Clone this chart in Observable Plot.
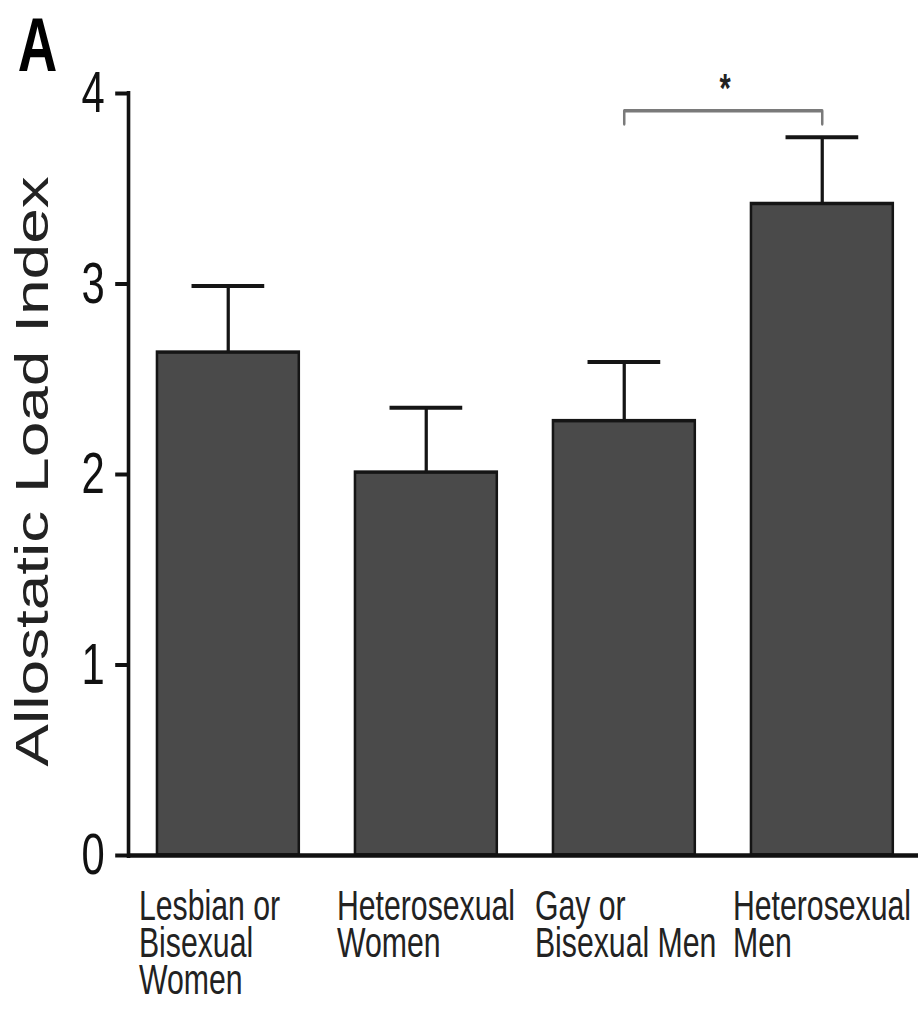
<!DOCTYPE html>
<html>
<head>
<meta charset="utf-8">
<script src="https://cdn.jsdelivr.net/npm/d3@7"></script>
<script src="https://cdn.jsdelivr.net/npm/@observablehq/plot@0.6"></script>
<style>
  html, body { margin: 0; padding: 0; background: #fff; }
  #chart { width: 918px; height: 1013px; overflow: hidden; }
</style>
</head>
<body>
<div id="chart"></div>
<script>
// ---- data ----
const groups = ["Lesbian or Bisexual Women", "Heterosexual Women", "Gay or Bisexual Men", "Heterosexual Men"];
const groupLabels = ["Lesbian or\nBisexual\nWomen", "Heterosexual\nWomen", "Gay or\nBisexual Men", "Heterosexual\nMen"];
const means = [2.64, 2.01, 2.28, 3.42];
const upperErr = [2.99, 2.35, 2.59, 3.77];
const yTicks = [0, 1, 2, 3, 4];
const sigPair = [groups[2], groups[3]];
const sigText = "*";
const panelLabel = "A";
const yTitle = "Allostatic Load Index";

const data = groups.map((g, i) => ({group: g, label: groupLabels[i], mean: means[i], upper: upperErr[i]}));

// drawn in a wider space, then squeezed horizontally like the original figure
const outW = 918, outH = 1013;
const W = 1275;

const bracketTop = 3.91, bracketLeg = 3.84;
const bracket = [
  {g: sigPair[0], v: bracketLeg},
  {g: sigPair[0], v: bracketTop},
  {g: sigPair[1], v: bracketTop},
  {g: sigPair[1], v: bracketLeg}
];

const font = "'Liberation Sans', Arial, Helvetica, sans-serif";

const chart = Plot.plot({
  width: W,
  height: outH,
  marginLeft: 178,
  marginRight: 0,
  marginTop: 93,
  marginBottom: 158,
  style: {fontFamily: font, background: "#fff", color: "#111"},
  x: {domain: groups, paddingInner: 0.283, paddingOuter: 0.136, align: 0.533, axis: null},
  y: {domain: [0, 4], axis: null},
  marks: [
    Plot.barY(data, {x: "group", y: "mean", fill: "#4a4a4a", stroke: "#151515", strokeWidth: 3.5}),
    Plot.ruleX(data, {x: "group", y1: "mean", y2: "upper", stroke: "#151515", strokeWidth: 4.5}),
    Plot.tickY(data, {x: "group", y: "upper", stroke: "#151515", strokeWidth: 4, insetLeft: 48, insetRight: 48}),
    Plot.line(bracket, {x: "g", y: "v", stroke: "#7a7a7a", strokeWidth: 3.5}),
    Plot.text([sigText], {x: () => sigPair[0], y: () => bracketTop, dx: 140, dy: -9, lineAnchor: "bottom", fontSize: 40, fontWeight: "bold", fill: "#222"}),
    Plot.axisY({ticks: yTicks, tickFormat: d => String(d), tickSize: 18, tickPadding: 15, fontSize: 58, strokeWidth: 4, label: null}),
    Plot.frame({anchor: "left", strokeWidth: 5, stroke: "#111"}),
    Plot.ruleY([0], {strokeWidth: 4.5, stroke: "#111"}),
    Plot.text(data, {x: "group", text: "label", frameAnchor: "bottom", textAnchor: "start", lineAnchor: "top", dx: -124, dy: 38, fontSize: 42, lineHeight: 0.88, fill: "#222"}),
    Plot.text([yTitle], {frameAnchor: "left", rotate: -90, dx: -133, dy: -3, lineAnchor: "middle", textAnchor: "middle", fontSize: 64, fill: "#222"}),
    Plot.text([panelLabel], {frameAnchor: "top-left", textAnchor: "start", lineAnchor: "bottom", dx: -154, dy: -23, fontSize: 76, fontWeight: "bold", fill: "#000"})
  ]
});

chart.setAttribute("viewBox", `0 0 ${W} ${outH}`);
chart.setAttribute("width", outW);
chart.setAttribute("height", outH);
chart.setAttribute("preserveAspectRatio", "none");
chart.style.width = outW + "px";
chart.style.height = outH + "px";
chart.style.maxWidth = "none";
chart.style.overflow = "visible";
document.getElementById("chart").appendChild(chart);
</script>
</body>
</html>
